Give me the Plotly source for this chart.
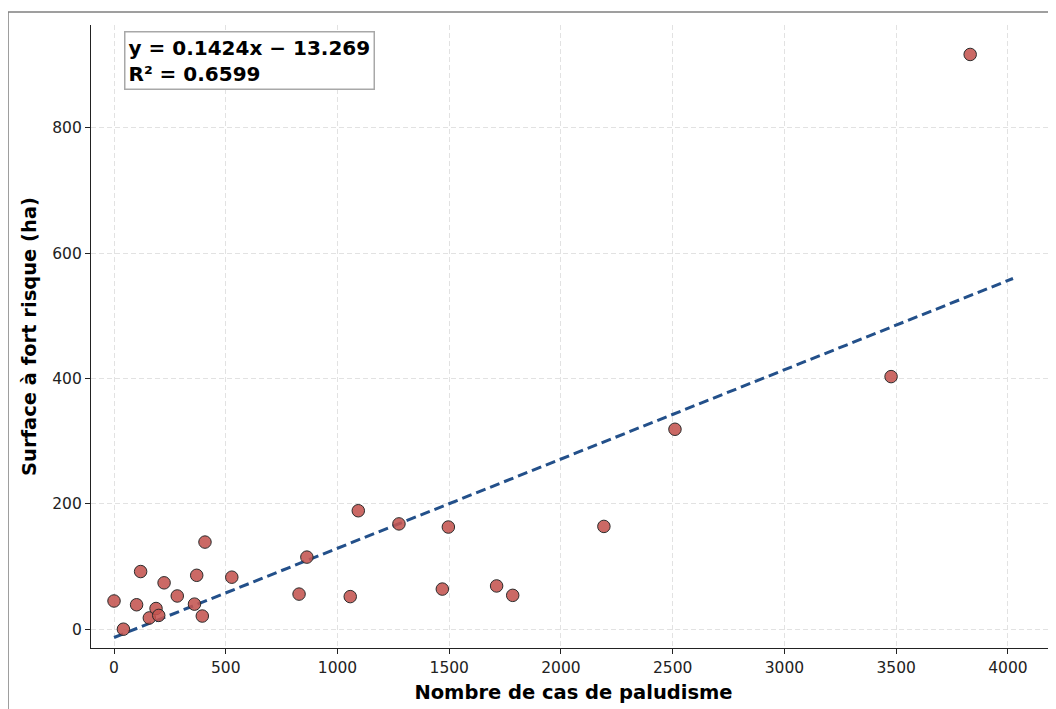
import plotly.graph_objects as go

# Data
cases = [0, 42, 101, 119, 158, 188, 200, 224, 283, 360, 370, 395, 407, 527,
         828, 863, 1057, 1093, 1275, 1469, 1496, 1712, 1784, 2192, 2510, 3477, 3831]
surface = [45, 0, 39, 92, 18, 33, 22, 74, 53, 40, 86, 21, 139, 83,
           56, 115, 52, 189, 168, 64, 163, 69, 54, 164, 319, 403, 917]

slope = 0.1424
intercept = -13.269
r2 = 0.6599

x_ticks = [0, 500, 1000, 1500, 2000, 2500, 3000, 3500, 4000]
y_ticks = [0, 200, 400, 600, 800]

x_title = "Nombre de cas de paludisme"
y_title = "Surface à fort risque (ha)"

x_line = [min(cases), max(cases) * 1.05]
y_line = [slope * v + intercept for v in x_line]

FONT = "DejaVu Sans"

fig = go.Figure()
fig.add_trace(go.Scatter(
    x=x_line, y=y_line, mode="lines",
    line=dict(color="#23508a", width=3, dash="10px,5px"),
    hoverinfo="skip", showlegend=False,
))
fig.add_trace(go.Scatter(
    x=cases, y=surface, mode="markers",
    marker=dict(size=12.5, color="rgba(196,84,80,0.88)",
                line=dict(color="#2b2b2b", width=1)),
    showlegend=False,
))

sign = "−" if intercept < 0 else "+"
fig.add_annotation(
    xref="paper", yref="paper", x=0.034, y=0.99,
    xanchor="left", yanchor="top", align="left", showarrow=False,
    text=f"<b>y = {slope:.4f}x {sign} {abs(intercept):.3f}<br>R² = {r2:.4f}</b>",
    font=dict(family=FONT, size=20, color="black"),
    bgcolor="white", bordercolor="#a8a8a8", borderwidth=1.5, borderpad=3,
)

# Figure border (partially visible)
fig.add_shape(type="line", xref="paper", yref="paper",
              x0=-0.086, x1=1.05, y0=1.0209, y1=1.0209,
              line=dict(color="#7f7f7f", width=1.5))
fig.add_shape(type="line", xref="paper", yref="paper",
              x0=-0.086, x1=-0.086, y0=1.0209, y1=-0.2,
              line=dict(color="#7f7f7f", width=1.5))

fig.update_xaxes(
    range=[-103, 4215], tickvals=x_ticks,
    showline=True, linecolor="#222", linewidth=1.3,
    ticks="outside", ticklen=5, tickcolor="#222",
    tickfont=dict(family=FONT, size=15.5, color="#222"),
    showgrid=True, gridcolor="#e2e2e2", griddash="5px,3px", gridwidth=1,
    zeroline=False, mirror=False,
    title=dict(text=f"<b>{x_title}</b>", font=dict(family=FONT, size=19.5, color="black"), standoff=9),
)
fig.update_yaxes(
    range=[-30, 964], tickvals=y_ticks,
    showline=True, linecolor="#222", linewidth=1.3,
    ticks="outside", ticklen=5, tickcolor="#222",
    tickfont=dict(family=FONT, size=15.5, color="#222"),
    showgrid=True, gridcolor="#e2e2e2", griddash="5px,3px", gridwidth=1,
    zeroline=False, mirror=False,
    title=dict(text=f"<b>{y_title}</b>", font=dict(family=FONT, size=19.5, color="black"), standoff=10),
)

fig.update_layout(
    width=1048, height=701,
    margin=dict(l=83, r=0, t=17, b=61),
    paper_bgcolor="white", plot_bgcolor="white",
    font=dict(family=FONT),
)

fig.write_html("out.html")
